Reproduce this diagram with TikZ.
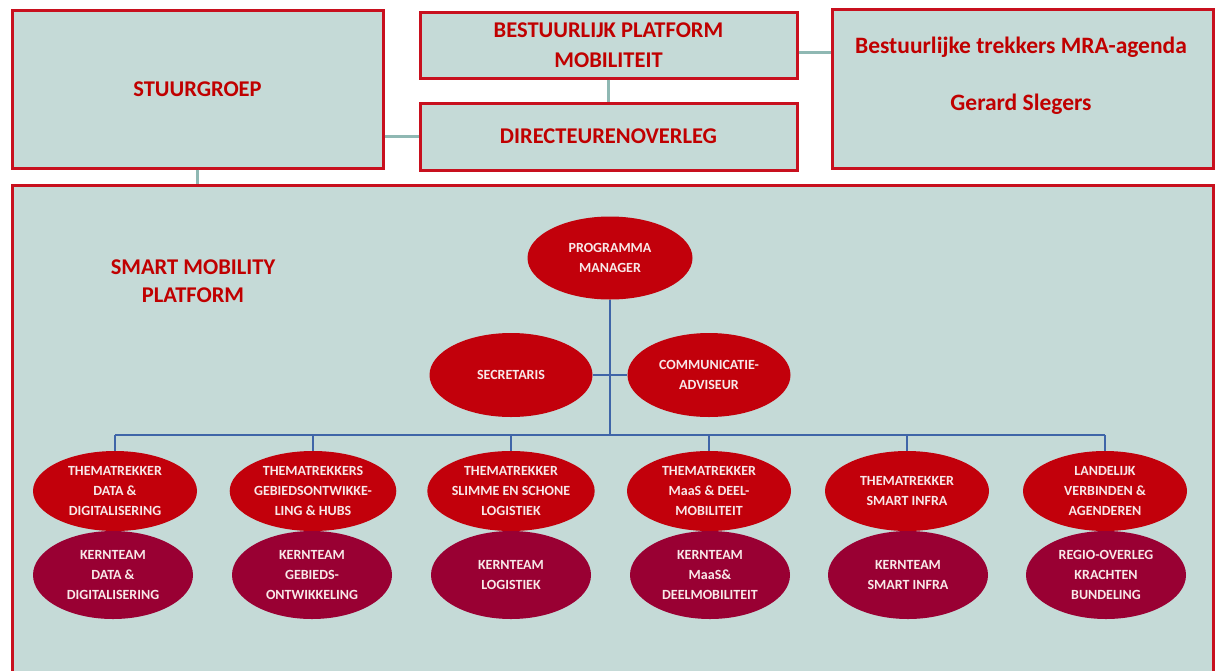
\documentclass[tikz,border=0pt]{standalone}
\usepackage{fontspec}
\setmainfont{Carlito}
\usetikzlibrary{shapes.geometric}
\definecolor{boxfill}{HTML}{C5DAD7}
\definecolor{boxred}{HTML}{C8101E}
\definecolor{textred}{HTML}{C00000}
\definecolor{themared}{HTML}{C2000B}
\definecolor{kernred}{HTML}{990033}
\definecolor{ovaltext}{HTML}{F8E8E8}
\definecolor{linkteal}{HTML}{8FB8B3}
\definecolor{busblue}{HTML}{3F65A8}
\begin{document}
\begin{tikzpicture}[x=1pt, y=-1pt,
  box/.style={draw=boxred, line width=3pt, fill=boxfill, text=textred, inner sep=0pt,
    font=\fontsize{22.5}{30}\selectfont\bfseries, align=center},
  boxtext/.style={text=textred, font=\fontsize{22.5}{28}\selectfont\bfseries, align=center},
  thema/.style={ellipse, fill=themared, text=ovaltext, inner sep=0pt, align=center,
    font=\fontsize{14}{20}\selectfont\bfseries, minimum width=164pt, minimum height=80pt},
  kern/.style={thema, fill=kernred, minimum width=160pt, minimum height=88pt},
  link/.style={linkteal, line width=3pt},
  bus/.style={busblue, line width=2.6pt}]
\useasboundingbox (0,0) rectangle (1215,670);
\clip (0,0) rectangle (1215,670);

% top row
\node[box, minimum width=371pt, minimum height=158pt] (stuur) at (197.5,89) {STUURGROEP};
\node[box, minimum width=377pt, minimum height=66pt] (best) at (608.5,45) {BESTUURLIJK PLATFORM\\MOBILITEIT};
\node[box, minimum width=377pt, minimum height=67pt] (dir) at (608.5,136.5) {DIRECTEURENOVERLEG};
\node[box, minimum width=381pt, minimum height=159pt] (trek) at (1022.5,88.5) {};
\node[boxtext, font=\fontsize{23.5}{28}\selectfont\bfseries] (trekA) at (1021,47) {Bestuurlijke trekkers MRA-agenda};
\node[boxtext, font=\fontsize{23.5}{28}\selectfont\bfseries] (trekB) at (1021,104) {Gerard Slegers};
\node[box, minimum width=1201pt, minimum height=535pt] (platform) at (612.5,452.5) {};
\node[boxtext] (smp) at (193,281) {SMART MOBILITY\\PLATFORM};

\draw[link] (dir.west -| stuur.east) -- (dir.west);
\draw[link] (best.south) -- (dir.north);
\draw[link] ([yshift=-7pt]best.east) -- ([yshift=-7pt]best.east -| trek.west);
\draw[link] (stuur.south) -- (stuur.south |- platform.north);

% programma
\node[thema, minimum width=165pt, minimum height=83pt] (pm) at (610,258) {PROGRAMMA\\MANAGER};
\node[thema, minimum width=163pt, minimum height=84pt] (sec) at (511,375) {SECRETARIS};
\node[thema, minimum width=163pt, minimum height=84pt] (com) at (709,375) {COMMUNICATIE-\\ADVISEUR};
\coordinate (bus) at (610,435);

% thematrekkers
\node[thema] (t1) at (115,491) {THEMATREKKER\\DATA \&\\DIGITALISERING};
\node[thema] (t2) at (313,491) {THEMATREKKERS\\GEBIEDSONTWIKKE-\\LING \& HUBS};
\node[thema] (t3) at (511,491) {THEMATREKKER\\SLIMME EN SCHONE\\LOGISTIEK};
\node[thema] (t4) at (709,491) {THEMATREKKER\\MaaS \& DEEL-\\MOBILITEIT};
\node[thema] (t5) at (907,491) {THEMATREKKER\\SMART INFRA};
\node[thema] (t6) at (1105,491) {LANDELIJK\\VERBINDEN \&\\AGENDEREN};

% kernteams
\node[kern] (k1) at (113,575) {KERNTEAM\\DATA \&\\DIGITALISERING};
\node[kern] (k2) at (312,575) {KERNTEAM\\GEBIEDS-\\ONTWIKKELING};
\node[kern] (k3) at (511,575) {KERNTEAM\\LOGISTIEK};
\node[kern] (k4) at (710,575) {KERNTEAM\\MaaS\&\\DEELMOBILITEIT};
\node[kern] (k5) at (908,575) {KERNTEAM\\SMART INFRA};
\node[kern] (k6) at (1106,575) {REGIO-OVERLEG\\KRACHTEN\\BUNDELING};

\draw[bus] (pm.south) -- (bus);
\draw[bus] (sec.east) -- (com.west);
\draw[bus] (bus -| t1) -- (bus -| t6);
\draw[bus] (bus -| t1) -- (t1.north);
\draw[bus] (bus -| t2) -- (t2.north);
\draw[bus] (bus -| t3) -- (t3.north);
\draw[bus] (bus -| t4) -- (t4.north);
\draw[bus] (bus -| t5) -- (t5.north);
\draw[bus] (bus -| t6) -- (t6.north);
\end{tikzpicture}
\end{document}
